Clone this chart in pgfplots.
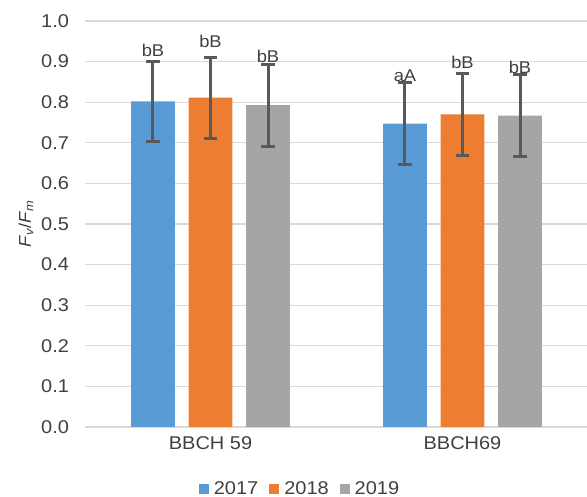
\documentclass[border=0pt]{standalone}
\usepackage{pgfplots}
\pgfplotsset{compat=1.18}
\usepackage{fontspec}
\setmainfont{Liberation Sans}[FakeStretch=1.08]
\definecolor{c17}{HTML}{5B9BD5}
\definecolor{c18}{HTML}{ED7D31}
\definecolor{c19}{HTML}{A5A5A5}
\definecolor{errc}{HTML}{595959}
\definecolor{gridc}{HTML}{D9D9D9}
\definecolor{txt}{HTML}{404040}
\newcommand{\chfont}{\fontsize{18.5}{22}\selectfont}
\newcommand{\lbfont}{\fontsize{17}{20}\selectfont}
\begin{document}
\begin{tikzpicture}
\useasboundingbox (0,0) rectangle (587pt,497pt);
\begin{axis}[
  at={(84.5pt,70pt)}, anchor=south west,
  scale only axis, width=504pt, height=406pt,
  xmin=-0.5, xmax=1.5, ymin=0, ymax=1,
  xtick={0,1}, xticklabels={BBCH 59, BBCH69},
  ytick={0,0.1,0.2,0.3,0.4,0.5,0.6,0.7,0.8,0.9,1.0},
  yticklabels={0.0,0.1,0.2,0.3,0.4,0.5,0.6,0.7,0.8,0.9,1.0},
  major tick length=0pt,
  axis line style={draw=none},
  ymajorgrids, grid style={gridc, line width=1.3pt},
  tick label style={font=\chfont, text=txt},
  yticklabel style={xshift=-12pt},
  xticklabel style={yshift=-6pt},
  ylabel={\textit{F}\textsubscript{\textit{v}}/\textit{F}\textsubscript{\textit{m}}},
  ylabel style={at={(axis description cs:-0.116,0.5)}, anchor=center, font=\lbfont, text=txt},
  legend image code/.code={\fill[#1] (0pt,-5pt) rectangle (10pt,5pt);},
  legend style={at={(axis description cs:0.4276,-0.1515)}, anchor=center, draw=none, fill=none,
    font=\chfont, text=txt, legend columns=3,
    /tikz/every odd column/.append style={column sep=3pt},
    /tikz/every even column/.append style={column sep=9pt}},
  legend cell align=left,
  clip=false,
  error bars/error bar style={draw=errc, line width=3pt},
  error bars/error mark options={draw=errc, line width=3pt, mark size=6.8pt, rotate=90},
]
\addlegendimage{fill=c17, draw=none}
\addlegendentry{2017}
\addlegendimage{fill=c18, draw=none}
\addlegendentry{2018}
\addlegendimage{fill=c19, draw=none}
\addlegendentry{2019}

\addplot[forget plot, ybar, bar width=43.7pt, bar shift=0pt, fill=c17, draw=none,
  error bars/.cd, y dir=both, y explicit]
  coordinates {(-0.2282,0.802) +- (0,0.099) (0.7718,0.747) +- (0,0.101)};
\addplot[forget plot, ybar, bar width=43.7pt, bar shift=0pt, fill=c18, draw=none,
  error bars/.cd, y dir=both, y explicit]
  coordinates {(0,0.811) +- (0,0.100) (1,0.770) +- (0,0.101)};
\addplot[forget plot, ybar, bar width=43.7pt, bar shift=0pt, fill=c19, draw=none,
  error bars/.cd, y dir=both, y explicit]
  coordinates {(0.2282,0.793) +- (0,0.101) (1.2282,0.767) +- (0,0.100)};

\addplot[forget plot, draw=none, nodes near coords, point meta=explicit symbolic,
  every node near coord/.append style={anchor=base, inner sep=0pt, font=\lbfont, text=txt}]
  table[meta=lab] {
x y lab
-0.2282 0.913 bB
0 0.934 bB
0.2282 0.898 bB
0.7718 0.850 aA
1 0.883 bB
1.2282 0.870 bB
};
\end{axis}
\end{tikzpicture}
\end{document}
